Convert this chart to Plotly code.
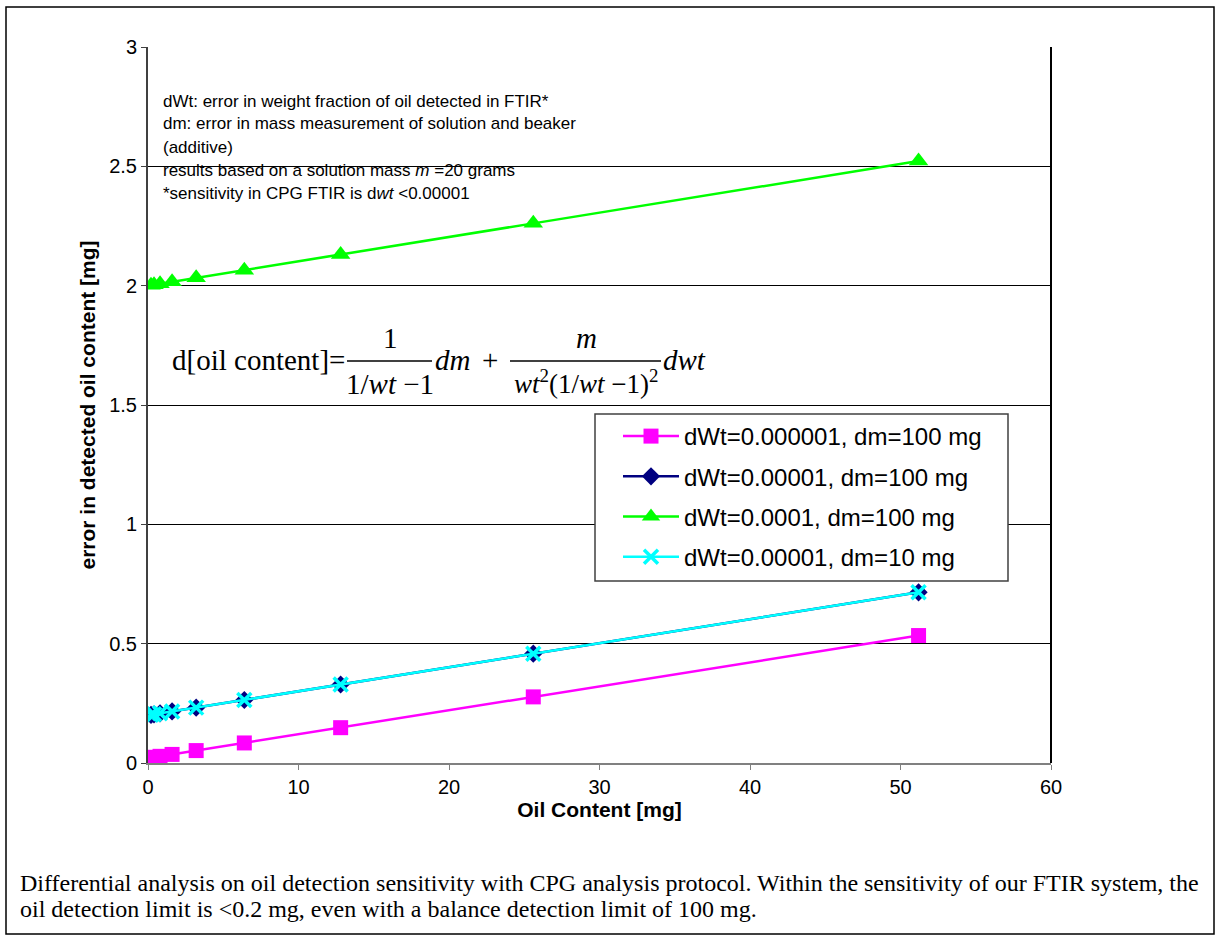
import plotly.graph_objects as go

# ---- data ----
oil_content = [0.2, 0.4, 0.8, 1.6, 3.2, 6.4, 12.8, 25.6, 51.2]
err_dwt1e6_dm100 = [0.022, 0.024, 0.028, 0.036, 0.052, 0.084, 0.148, 0.277, 0.534]
err_dwt1e5_dm100 = [0.202, 0.204, 0.208, 0.216, 0.232, 0.264, 0.329, 0.458, 0.715]
err_dwt1e4_dm100 = [2.002, 2.004, 2.008, 2.016, 2.033, 2.065, 2.131, 2.261, 2.522]
err_dwt1e5_dm10 = [0.202, 0.204, 0.208, 0.216, 0.232, 0.264, 0.329, 0.458, 0.715]
series_names = ["dWt=0.000001, dm=100 mg", "dWt=0.00001, dm=100 mg",
                "dWt=0.0001, dm=100 mg", "dWt=0.00001, dm=10 mg"]
x_ticks = [0, 10, 20, 30, 40, 50, 60]
y_ticks = [0, 0.5, 1, 1.5, 2, 2.5, 3]

W, H = 1222, 942
L, R, T, B = 148, 1051, 47, 763


def px(xp):
    return (xp - L) / (R - L)


def py(yp):
    return (B - yp) / (B - T)


fig = go.Figure()
styles = [
    dict(color="#FF00FF", symbol="square", size=15),
    dict(color="#000080", symbol="diamond", size=14),
    dict(color="#00FF00", symbol="triangle-up", size=17),
    dict(color="#00FFFF", symbol="x-thin", size=14),
]
ys = [err_dwt1e6_dm100, err_dwt1e5_dm100, err_dwt1e4_dm100, err_dwt1e5_dm10]
for i, (name, yv, st) in enumerate(zip(series_names, ys, styles)):
    marker = dict(symbol=st["symbol"], size=st["size"], color=st["color"])
    if st["symbol"] == "x-thin":
        marker["line"] = dict(color=st["color"], width=3.5)
    else:
        marker["line"] = dict(width=0)
    fig.add_trace(go.Scatter(x=oil_content, y=yv, name=name, mode="lines+markers",
                             legendgroup="g%d" % i,
                             line=dict(color=st["color"], width=2.5), marker=marker))

ann = []
text_lines = [
    ("dWt: error in weight fraction of oil detected in FTIR*", 101),
    ("dm: error in mass measurement of solution and beaker", 124),
    ("(additive)", 147),
    ("results based on a solution mass <i>m</i> =20 grams", 170),
    ("*sensitivity in CPG FTIR is d<i>wt</i> <0.00001", 193),
]
for t, yp in text_lines:
    ann.append(dict(text=t, x=px(161), y=py(yp), xref="paper", yref="paper",
                    xanchor="left", yanchor="middle", showarrow=False,
                    font=dict(family="Liberation Sans, Arial", size=17, color="black")))

ff = "Liberation Serif, Times New Roman"
fs = 29


def ftxt(t, xp, yp, anchor="center", size=fs):
    ann.append(dict(text=t, x=px(xp), y=py(yp), xref="paper", yref="paper",
                    xanchor=anchor, yanchor="middle", showarrow=False,
                    font=dict(family=ff, size=size, color="black")))


ftxt("d[oil content]=", 347, 360, "right")
ftxt("1", 390, 338)
ftxt("1/<i>wt</i> −1", 390, 384)
ftxt("<i>dm</i>", 433, 360, "left")
ftxt("+", 490, 360)
ftxt("<i>m</i>", 586, 338)
ftxt("<i>wt</i><sup>2</sup>(1/<i>wt</i> −1)<sup>2</sup>", 586, 382, size=27)
ftxt("<i>dwt</i>", 661, 360, "left")

caption = [
    ("Differential analysis on oil detection sensitivity with CPG analysis protocol. Within the sensitivity of our FTIR system, the", 883),
    ("oil detection limit is <0.2 mg, even with a balance detection limit of 100 mg.", 909),
]
for t, yp in caption:
    ann.append(dict(text=t, x=px(18), y=py(yp), xref="paper", yref="paper",
                    xanchor="left", yanchor="middle", showarrow=False,
                    font=dict(family=ff, size=24, color="black")))

shapes = [
    dict(type="line", xref="paper", yref="paper", x0=px(347), x1=px(432),
         y0=py(361), y1=py(361), line=dict(color="black", width=1.5)),
    dict(type="line", xref="paper", yref="paper", x0=px(510), x1=px(661),
         y0=py(361), y1=py(361), line=dict(color="black", width=1.5)),
    dict(type="rect", xref="paper", yref="paper", x0=px(6), x1=px(1214),
         y0=py(7), y1=py(934), line=dict(color="black", width=1.5)),
    dict(type="line", xref="paper", yref="paper", x0=1, x1=1, y0=0, y1=1,
         line=dict(color="black", width=2)),
    # legend frame
    dict(type="rect", xref="paper", yref="paper", x0=px(595), x1=px(1008),
         y0=py(414), y1=py(581), layer="above", fillcolor="white",
         line=dict(color="#404040", width=1.5)),
]

fig.update_layout(
    width=W, height=H,
    margin=dict(l=L, r=W - R, t=T, b=H - B),
    paper_bgcolor="white", plot_bgcolor="white",
    font=dict(family="Liberation Sans, Arial", size=20, color="black"),
    showlegend=True,
    legend=dict(x=px(618), y=py(414), xanchor="left", yanchor="top",
                borderwidth=0, bgcolor="rgba(0,0,0,0)",
                font=dict(family="Liberation Sans, Arial", size=24),
                tracegroupgap=6, itemwidth=56),
    annotations=ann, shapes=shapes,
)
fig.update_xaxes(range=[0, 60], tickvals=x_ticks, ticktext=[str(v) for v in x_ticks],
                 showgrid=False, zeroline=False, showline=True, linecolor="#808080",
                 linewidth=2, mirror=False, ticks="outside", ticklen=5, tickcolor="#808080",
                 tickfont=dict(size=20),
                 title=dict(text="<b>Oil Content [mg]</b>", font=dict(size=21), standoff=3))
fig.update_yaxes(range=[0, 3], tickvals=y_ticks, ticktext=["0", "0.5", "1", "1.5", "2", "2.5", "3"],
                 showgrid=True, gridcolor="black", gridwidth=1, zeroline=False,
                 showline=True, linecolor="#404040", linewidth=2, mirror=False,
                 ticks="outside", ticklen=5, tickcolor="#404040", tickfont=dict(size=20),
                 title=dict(text="<b>error in detected oil content [mg]</b>", font=dict(size=21), standoff=8))

fig.write_html("out.html")
